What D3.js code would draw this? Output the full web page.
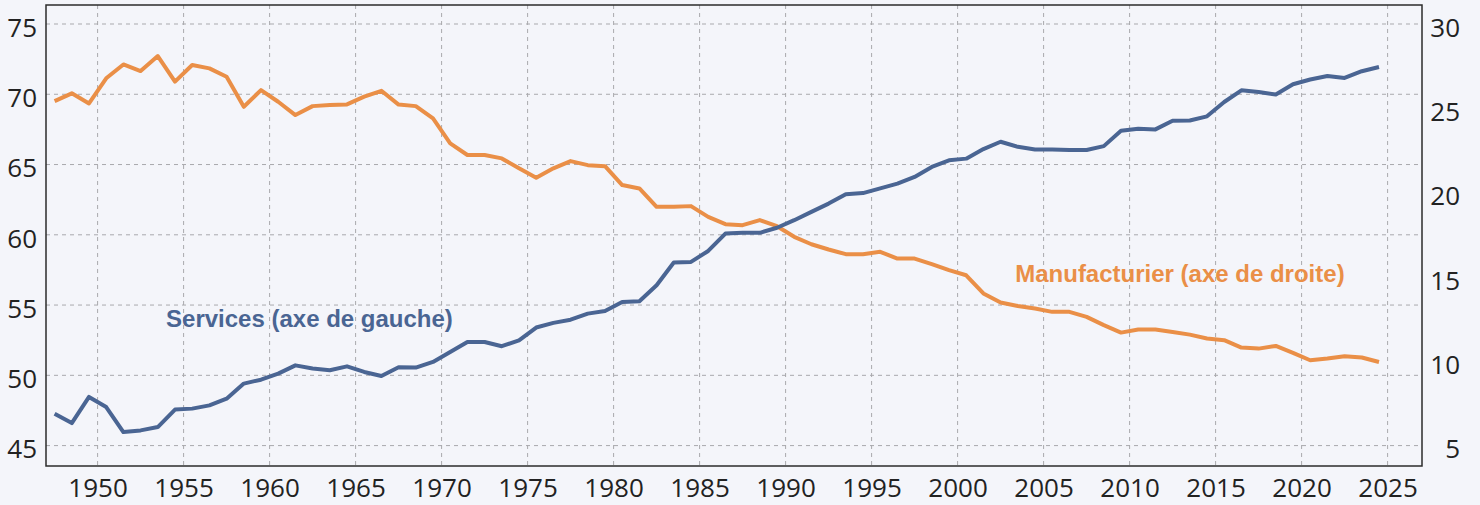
<!DOCTYPE html>
<html>
<head>
<meta charset="utf-8">
<title>Services vs manufacturier</title>
<style>
  html, body { margin: 0; padding: 0; background: #f4f5fa; }
  svg { display: block; }
  .tick text { font-family: "Open Sans", sans-serif; font-size: 26px; fill: #222; }
  .note { font-family: "Liberation Sans", Arial, sans-serif; font-size: 24px; font-weight: bold; }
</style>
</head>
<body>
<script src="https://cdn.jsdelivr.net/npm/d3@7"></script>
<script>
// annual shares, 1947-2024
const years = d3.range(1947, 2025);
const services = [
  47.27, 46.6, 48.46, 47.74, 45.96, 46.08, 46.32, 47.56, 47.63, 47.86,
  48.34, 49.41, 49.69, 50.12, 50.71, 50.48, 50.36, 50.64, 50.24, 49.95,
  50.57, 50.55, 50.95, 51.66, 52.37, 52.37, 52.07, 52.49, 53.4, 53.73,
  53.96, 54.39, 54.58, 55.22, 55.27, 56.41, 58.03, 58.07, 58.85, 60.09,
  60.14, 60.14, 60.5, 61.04, 61.63, 62.22, 62.89, 62.97, 63.3, 63.64,
  64.12, 64.83, 65.3, 65.42, 66.1, 66.62, 66.26, 66.07, 66.07, 66.03,
  66.03, 66.31, 67.4, 67.55, 67.5, 68.12, 68.13, 68.43, 69.45, 70.28,
  70.16, 69.98, 70.71, 71.05, 71.3, 71.16, 71.64, 71.94
];
const manufacturier = [
  25.43, 25.89, 25.29, 26.78, 27.6, 27.21, 28.1, 26.58, 27.57, 27.37,
  26.87, 25.09, 26.08, 25.39, 24.6, 25.13, 25.19, 25.23, 25.69, 26.04,
  25.22, 25.13, 24.4, 22.92, 22.23, 22.23, 22.03, 21.44, 20.88, 21.44,
  21.87, 21.63, 21.57, 20.45, 20.25, 19.16, 19.16, 19.2, 18.56, 18.13,
  18.07, 18.37, 18.01, 17.38, 16.94, 16.63, 16.35, 16.35, 16.49, 16.09,
  16.09, 15.76, 15.4, 15.1, 14.02, 13.48, 13.28, 13.13, 12.93, 12.93,
  12.63, 12.14, 11.7, 11.88, 11.88, 11.74, 11.58, 11.35, 11.25, 10.81,
  10.75, 10.91, 10.5, 10.06, 10.16, 10.3, 10.22, 9.96
];
const xTicks = d3.range(1950, 2026, 5);
const leftTicks = [45, 50, 55, 60, 65, 70, 75];
const rightTicks = [5, 10, 15, 20, 25, 30];

const w = 1480, h = 505;
const margin = { top: 5, right: 58, bottom: 39, left: 46 };
const blue = "#4a6593", orange = "#ea8f47";

const svg = d3.select("body").append("svg")
  .attr("width", w)
  .attr("height", h);

const x = d3.scaleLinear().domain([1947, 2027]).range([margin.left, w - margin.right]);
const yL = d3.scaleLinear().domain([43.547, 76.353]).range([h - margin.bottom, margin.top]);
const yR = d3.scaleLinear().domain([3.789, 31.127]).range([h - margin.bottom, margin.top]);

// grid
const grid = svg.append("g")
  .attr("stroke", "#a9a9ad")
  .attr("stroke-width", 1)
  .attr("stroke-dasharray", "4,4");
grid.selectAll(".gx")
  .data(xTicks)
  .enter()
  .append("line")
  .attr("x1", d => x(d)).attr("x2", d => x(d))
  .attr("y1", margin.top).attr("y2", h - margin.bottom);
grid.selectAll(".gy")
  .data(leftTicks)
  .enter()
  .append("line")
  .attr("x1", margin.left).attr("x2", w - margin.right)
  .attr("y1", d => yL(d)).attr("y2", d => yL(d));

// axes
svg.append("g")
  .attr("transform", `translate(0,${h - margin.bottom})`)
  .call(d3.axisBottom(x).tickValues(xTicks).tickFormat(d3.format("d")).tickSize(0).tickPadding(13))
  .call(g => g.select(".domain").remove());

svg.append("g")
  .attr("transform", `translate(${margin.left},0)`)
  .call(d3.axisLeft(yL).tickValues(leftTicks).tickSize(0).tickPadding(9))
  .call(g => g.select(".domain").remove())
  .selectAll("text").attr("dy", "0.47em");

svg.append("g")
  .attr("transform", `translate(${w - margin.right},0)`)
  .call(d3.axisRight(yR).tickValues(rightTicks).tickSize(0).tickPadding(38))
  .call(g => g.select(".domain").remove())
  .selectAll("text").attr("dy", "0.47em").attr("text-anchor", "end");

// lines
const serLine = d3.line()
  .x((d, i) => x(years[i] + 0.5))
  .y(d => yL(d));
const manLine = d3.line()
  .x((d, i) => x(years[i] + 0.5))
  .y(d => yR(d));

svg.append("path")
  .datum(manufacturier)
  .attr("d", manLine)
  .attr("fill", "none")
  .attr("stroke", orange)
  .attr("stroke-width", 4)
  .attr("stroke-linejoin", "round");

svg.append("path")
  .datum(services)
  .attr("d", serLine)
  .attr("fill", "none")
  .attr("stroke", blue)
  .attr("stroke-width", 4)
  .attr("stroke-linejoin", "round");

// frame
svg.append("rect")
  .attr("x", margin.left).attr("y", margin.top)
  .attr("width", w - margin.left - margin.right)
  .attr("height", h - margin.top - margin.bottom)
  .attr("fill", "none")
  .attr("stroke", "#2b2b2b")
  .attr("stroke-width", 1.5);

// series labels
svg.append("text")
  .attr("class", "note")
  .attr("x", x(1953.98)).attr("y", yL(53.42))
  .attr("fill", blue)
  .text("Services (axe de gauche)");

svg.append("text")
  .attr("class", "note")
  .attr("x", x(2003.35)).attr("y", yR(14.71))
  .attr("fill", orange)
  .text("Manufacturier (axe de droite)");
</script>
</body>
</html>
